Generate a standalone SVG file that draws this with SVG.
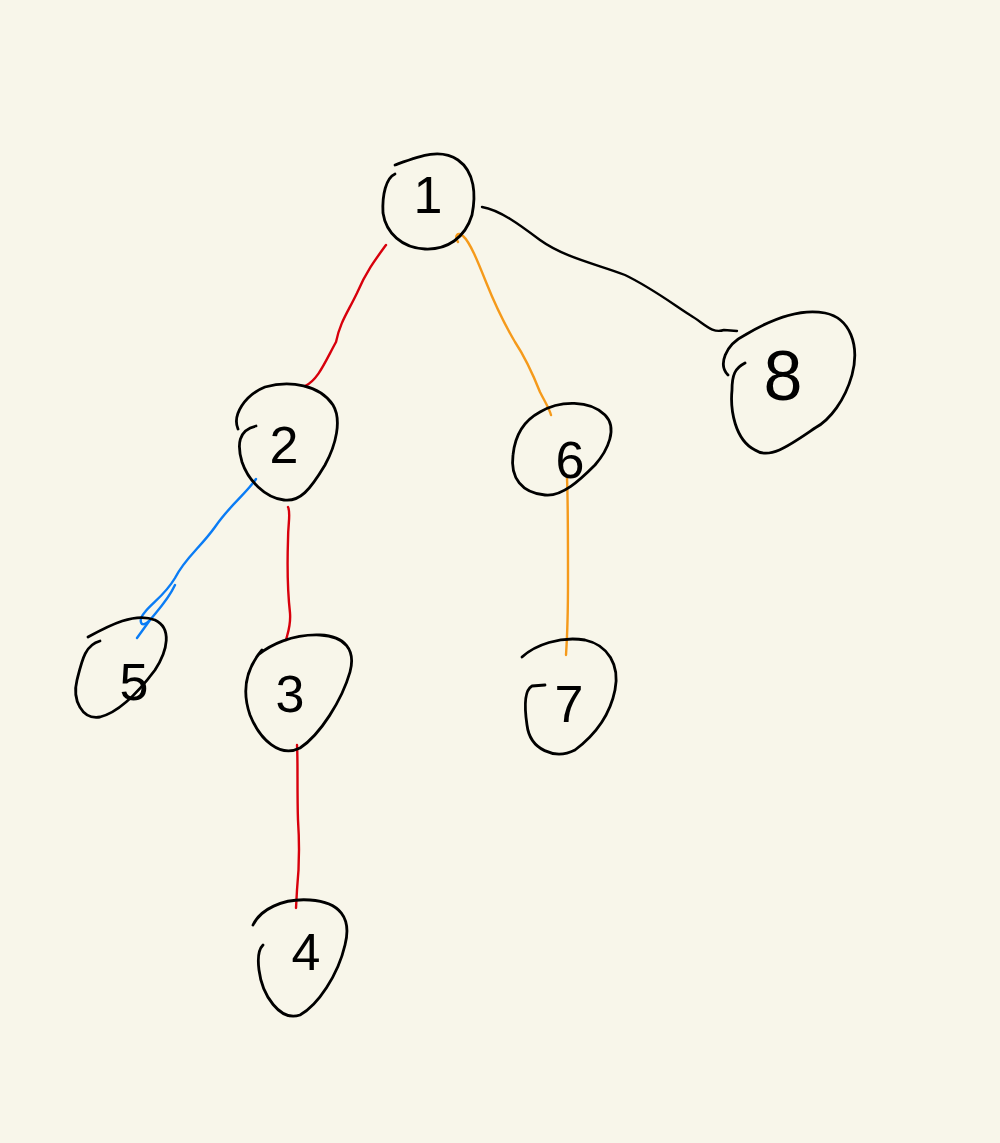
<svg xmlns="http://www.w3.org/2000/svg" width="1000" height="1143" viewBox="0 0 1000 1143">
<style>
.n{fill:none;stroke:#000;stroke-width:2.8;stroke-linecap:round;stroke-linejoin:round}
.e{fill:none;stroke-width:2.4;stroke-linecap:round;stroke-linejoin:round}
.red{stroke:#d8000c}.org{stroke:#f59a1b}.blu{stroke:#0a7cf5}.blk{stroke:#000}
.t{font-family:"Liberation Sans","DejaVu Sans",sans-serif;font-size:52px;fill:#000;text-anchor:middle}
</style>
<rect width="1000" height="1143" fill="#f8f6ea"/>
<g id="connectors">
<path class="e red" d="M386,245 C375,260 366,272 357,293 C348,312 340,322 336,342 C325,362 318,380 305,386"/>
<path class="e org" d="M458,242 C454,236 458,231 463,236 C470,242 478,262 486,282 C494,302 505,325 515,342 C525,357 532,372 540,392 C545,402 549,408 551,415"/>
<path class="e blk" d="M482,207 C500,210 520,225 540,240 C565,258 600,265 625,275 C650,287 670,302 690,315 C705,324 712,334 724,330 L737,331"/>
<path class="e blu" d="M256,479 C245,495 230,505 215,527 C200,548 185,558 175,578 C165,595 152,603 145,612 C138,620 140,630 150,620 C158,610 168,600 175,585 M150,620 L137,638"/>
<path class="e red" d="M288,507 C291,513 288,522 288,540 C287,570 288,595 290,613 C291,625 288,632 286,640"/>
<path class="e red" d="M297,745 C298,760 297,790 298,820 C300,850 299,870 297,890 L296,908"/>
<path class="e org" d="M567,478 C568,500 568,540 568,580 C568,620 567,640 566,655"/>
</g>
<g id="node1">
<path class="n" d="M395,165 C420,156 440,148 458,160 C475,172 476,195 472,215 C465,238 447,250 425,249 C402,248 386,233 383,213 C382,195 386,178 395,174"/>
<text class="t" x="428" y="213">1</text>
</g>
<g id="node2">
<path class="n" d="M238,429 C232,415 245,395 265,387 C290,380 320,385 333,405 C342,420 336,445 325,465 C310,490 300,502 284,500 C265,498 248,480 242,462 C237,445 238,430 256,426"/>
<text class="t" x="284" y="463">2</text>
</g>
<g id="node5">
<path class="n" d="M88,637 C110,625 135,612 155,620 C172,628 168,650 155,670 C140,690 120,712 100,717 C82,720 72,700 77,680 C82,660 85,645 100,641"/>
<text class="t" x="134" y="700">5</text>
</g>
<g id="node3">
<path class="n" d="M258,655 C270,645 292,634 320,635 C345,636 356,650 350,672 C342,700 320,735 300,748 C280,758 260,740 250,715 C242,692 245,670 262,650"/>
<text class="t" x="290" y="712">3</text>
</g>
<g id="node4">
<path class="n" d="M253,925 C260,910 282,898 310,900 C340,902 352,918 345,945 C338,975 318,1005 300,1015 C280,1022 262,995 259,970 C257,955 260,948 263,945"/>
<text class="t" x="306" y="970">4</text>
</g>
<g id="node6">
<path class="n" d="M540,412 C560,400 590,400 605,415 C618,428 608,450 595,465 C580,480 562,497 545,495 C522,493 510,478 513,455 C515,435 525,420 540,412"/>
<text class="t" x="570" y="478">6</text>
</g>
<g id="node7">
<path class="n" d="M522,657 C535,645 560,636 585,640 C608,645 620,665 615,690 C610,715 595,735 575,750 C555,760 530,750 527,725 C524,705 525,690 532,686 L545,685"/>
<text class="t" x="569" y="722">7</text>
</g>
<g id="node8">
<path class="n" d="M728,375 C718,365 725,345 745,335 C770,320 800,308 825,313 C850,318 860,345 852,375 C845,400 830,420 815,428 C790,445 770,460 755,450 C735,440 730,410 732,390 C732,375 735,368 745,363"/>
<text class="t" x="783" y="400" style="font-size:70px">8</text>
</g>
</svg>
